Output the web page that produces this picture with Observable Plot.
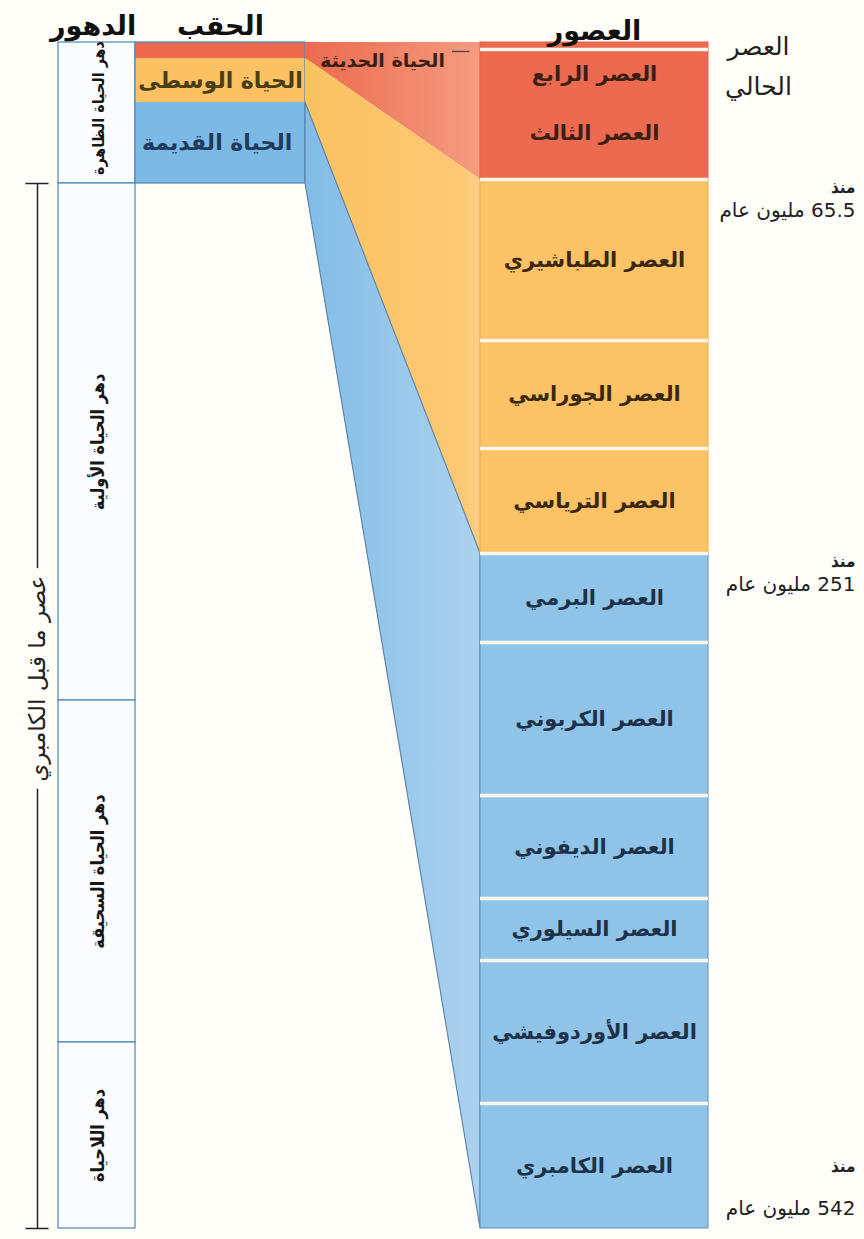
<!DOCTYPE html>
<html lang="ar">
<head>
<meta charset="utf-8">
<script src="https://cdn.jsdelivr.net/npm/d3@7"></script>
<script src="https://cdn.jsdelivr.net/npm/@observablehq/plot@0.6"></script>
<style>
html,body{margin:0;padding:0;background:#fffdf8;}
#chart{width:864px;height:1239px;}
</style>
</head>
<body>
<div id="chart"></div>
<script>
// ---------------- DATA (ages in millions of years ago) ----------------
const headers = ["الدهور", "الحقب", "العصور"];

const eonNames = ["دهر الحياة الظاهرة", "دهر الحياة الأولية", "دهر الحياة السحيقة", "دهر اللاحياة"];
const eonStart = [0, 542, 2500, 4000];
const eonEnd   = [542, 2500, 4000, 4600];

const eraKeys  = ["cenozoic", "mesozoic", "paleozoic"];
const eraNames = ["الحياة الحديثة", "الحياة الوسطى", "الحياة القديمة"];
const eraStart = [0, 65.5, 251];
const eraEnd   = [65.5, 251, 542];

const periodNames = ["العصر الرابع", "العصر الثالث", "العصر الطباشيري", "العصر الجوراسي", "العصر الترياسي",
  "العصر البرمي", "العصر الكربوني", "العصر الديفوني", "العصر السيلوري", "العصر الأوردوفيشي", "العصر الكامبري"];
const periodStart = [0, 2.6, 65.5, 145.5, 199.6, 251, 299, 359.2, 416, 443.7, 488.3];
const periodEnd   = [2.6, 65.5, 145.5, 199.6, 251, 299, 359.2, 416, 443.7, 488.3, 542];
const periodEra   = ["cenozoic", "cenozoic", "mesozoic", "mesozoic", "mesozoic",
  "paleozoic", "paleozoic", "paleozoic", "paleozoic", "paleozoic", "paleozoic"];

const boundaryAges   = [65.5, 251, 542];
const boundaryLabels = ["65.5 مليون عام", "251 مليون عام", "542 مليون عام"];
const sinceLabel   = "منذ";
const presentLabel = "العصر\nالحالي";
const precambrianLabel = "عصر ما قبل الكامبري";
const precambrianSpan = [542, 4600];

// ---------------- TABLES BUILT FROM THE ARRAYS ----------------
const eons = eonNames.map((name, i) => ({name, start: eonStart[i], end: eonEnd[i]}));
const eras = eraKeys.map((era, i) => ({era, name: eraNames[i], start: eraStart[i], end: eraEnd[i]}));
const periods = periodNames.map((name, i) => ({name, start: periodStart[i], end: periodEnd[i], era: periodEra[i]}));
const notes = boundaryAges.map((age, i) => ({age, label: boundaryLabels[i]}));

// ---------------- SCALES (layout options) ----------------
// Columns: -1 bracket, 0–1 eons, 1–2 eras, 2–3 links, 3–4 periods, 5 notes edge
const xOpts = {type: "linear", domain: [-1, 0, 1, 2, 3, 4, 5], range: [37, 58, 135, 305, 480, 708, 855], axis: null};
// Right column (periods): piecewise age scale
const yRightOpts = {type: "linear", domain: [...periodStart, 542],
  range: [42, 49, 179, 340, 448, 553, 642, 795, 898, 960, 1103, 1228], axis: null};
// Left columns (eons / eras): piecewise age scale
const yLeftOpts = {type: "linear", domain: [0, 65.5, 251, 542, 2500, 4000, 4600],
  range: [42, 58, 102, 183, 700, 1042, 1228]};

const yR = Plot.scale({y: yRightOpts});
const yL = Plot.scale({y: yLeftOpts});
const left = age => yR.invert(yL.apply(age));   // left-column age expressed on the plot's y scale

// styles
const eraFill = ["#ec6a4f", "#fbc162", "#7db9e5"];
const periodFill = {cenozoic: "#ec6a4f", mesozoic: "#fbc366", paleozoic: "#8fc3e8"};
const periodStroke = {cenozoic: "#e0604a", mesozoic: "#e8ac4c", paleozoic: "#5c8fbd"};
const labelColor = {cenozoic: "#3a2012", mesozoic: "#3a2812", paleozoic: "#1d3248"};
const blueLine = "#4d86b8";
const FONT = "DejaVu Sans, sans-serif";
const CONDENSED = "DejaVu Sans Condensed, DejaVu Sans, sans-serif";

const trap = eraKeys.flatMap((era, i) => [
  {era, x: 2, y1: left(eraStart[i]), y2: left(eraEnd[i])},
  {era, x: 3, y1: eraStart[i], y2: eraEnd[i]}
]);

const marks = [];

// Precambrian bracket (drawn first so its label halo stays under the columns)
marks.push(Plot.ruleX([precambrianSpan], {x: -1, y1: d => left(d[0]), y2: d => left(d[1]), stroke: "#222", strokeWidth: 1.5}));
marks.push(Plot.ruleY(precambrianSpan, {y: d => left(d), x1: -1.55, x2: -0.45, stroke: "#222", strokeWidth: 1.5}));
marks.push(Plot.text([precambrianLabel], {x: -1, y: left((precambrianSpan[0] + precambrianSpan[1]) / 2), dy: -38,
  text: d => d, rotate: -90, fontSize: 23, fill: "#222", stroke: "#fffdf8", strokeWidth: 20, fontFamily: FONT}));

// Eon column
marks.push(Plot.rect(eons, {x1: 0, x2: 1, y1: d => left(d.start), y2: d => left(d.end),
  fill: "#fafcff", stroke: blueLine, strokeWidth: 1.2}));
marks.push(Plot.text(eons.slice(0, 1), {x: 0.52, y: d => left((d.start + d.end) / 2), text: "name", rotate: -90,
  fontSize: 16, fontWeight: "bold", fill: "#161616", fontFamily: CONDENSED}));
marks.push(Plot.text(eons.slice(1), {x: 0.52, y: d => left((d.start + d.end) / 2), text: "name", rotate: -90,
  fontSize: 18, fontWeight: "bold", fill: "#161616", fontFamily: CONDENSED}));

// Era column
marks.push(Plot.rect(eras, {x1: 1, x2: 2, y1: d => left(d.start), y2: d => left(d.end), fill: "era"}));
marks.push(Plot.rect(eras.slice(0, 1), {x1: 1, x2: 2, y1: d => left(0), y2: d => left(542),
  fill: "none", stroke: blueLine, strokeWidth: 1.2}));

// Trapezoid links
eraKeys.forEach(k => {
  marks.push(Plot.areaY(trap.filter(d => d.era === k), {x: "x", y1: "y1", y2: "y2",
    fill: `url(#grad-${k})`, stroke: k === "paleozoic" ? "#5a7f9f" : "none", strokeWidth: 1.1}));
});

// Period column
eraKeys.forEach(k => {
  marks.push(Plot.rect(periods.filter(d => d.era === k), {x1: 3, x2: 4, y1: "start", y2: "end",
    fill: periodFill[k], stroke: periodStroke[k], strokeWidth: 1}));
});
marks.push(Plot.ruleY(periodStart.slice(1), {x1: 3, x2: 4, stroke: "#fdf6ea", strokeWidth: 3.5}));

// Era labels
marks.push(Plot.text(eras.filter(d => d.era === "mesozoic"), {x: 1.5, y: d => left((d.start + d.end) / 2), text: "name",
  fontSize: 22, fontWeight: "bold", fill: "#4a3d14", fontFamily: FONT}));
marks.push(Plot.text(eras.filter(d => d.era === "paleozoic"), {x: 1.48, y: d => left((d.start + d.end) / 2), text: "name",
  fontSize: 22, fontWeight: "bold", fill: "#1f3a5a", fontFamily: FONT}));
marks.push(Plot.text(eras.filter(d => d.era === "cenozoic"), {x: 2.44, y: d => d.start, dy: 18, text: "name",
  fontSize: 19, fontWeight: "bold", fill: "#3a2012", fontFamily: FONT}));
marks.push(Plot.ruleY(eras.filter(d => d.era === "cenozoic"), {y: "start", dy: 9, x1: 2.84, x2: 2.94, stroke: "#444", strokeWidth: 1.3}));

// Period labels
const periodLabelStyle = {x: 3.5, text: "name", fontSize: 21, fontWeight: "bold", fontFamily: FONT};
marks.push(Plot.text(periods.slice(0, 1), {...periodLabelStyle, y: "end", dy: 25, fill: labelColor.cenozoic}));
marks.push(Plot.text(periods.slice(1, 2), {...periodLabelStyle, y: d => (d.start + d.end) / 2, dy: 19, fill: labelColor.cenozoic}));
marks.push(Plot.text(periods.filter(d => d.era === "mesozoic"), {...periodLabelStyle, y: d => (d.start + d.end) / 2, fill: labelColor.mesozoic}));
marks.push(Plot.text(periods.filter(d => d.era === "paleozoic"), {...periodLabelStyle, y: d => (d.start + d.end) / 2, fill: labelColor.paleozoic}));

// Present-time label
marks.push(Plot.text([presentLabel], {x: 4.34, y: 0, dy: -16, text: d => d, lineAnchor: "top",
  lineHeight: 1.6, fontSize: 25, fill: "#231f20", fontFamily: FONT}));

// Boundary notes (right edge)
const upper = notes.filter(d => d.age < 542), lower = notes.filter(d => d.age === 542);
marks.push(Plot.text(upper, {x: 5, y: "age", dy: 8, text: () => sinceLabel, textAnchor: "start",
  fontSize: 17, fontWeight: "bold", fill: "#222", fontFamily: CONDENSED}));
marks.push(Plot.text(upper, {x: 5, y: "age", dy: 31, text: "label", textAnchor: "start",
  fontSize: 20, fill: "#222", fontFamily: FONT}));
marks.push(Plot.text(lower, {x: 5, y: "age", dy: -62, text: () => sinceLabel, textAnchor: "start",
  fontSize: 17, fontWeight: "bold", fill: "#222", fontFamily: CONDENSED}));
marks.push(Plot.text(lower, {x: 5, y: "age", dy: -20, text: "label", textAnchor: "start",
  fontSize: 20, fill: "#222", fontFamily: FONT}));

// Headers
const headerCols = [0.45, 1.5, 3.5], headerDy = [15, 15, 20];
headers.forEach((h, i) => marks.push(Plot.text([h], {x: headerCols[i], frameAnchor: "top", dy: headerDy[i],
  text: d => d, fontSize: 27, fontWeight: "900", fill: "#111", fontFamily: FONT})));

const svg = Plot.plot({
  width: 864, height: 1239, margin: 0,
  x: xOpts, y: yRightOpts,
  color: {domain: eraKeys, range: eraFill},
  style: {background: "#fffdf8", direction: "rtl", fontFamily: FONT},
  marks
});

// gradients for the links
d3.select(svg).insert("defs", ":first-child").html(`
  <linearGradient id="grad-cenozoic" x1="0" x2="1" y1="0" y2="0">
    <stop offset="0" stop-color="#ec6a4f"/><stop offset="1" stop-color="#f59c80"/></linearGradient>
  <linearGradient id="grad-mesozoic" x1="0" x2="1" y1="0" y2="0">
    <stop offset="0" stop-color="#fbc260"/><stop offset="0.9" stop-color="#fcc874"/><stop offset="1" stop-color="#fccf86"/></linearGradient>
  <linearGradient id="grad-paleozoic" x1="0" x2="1" y1="0" y2="0">
    <stop offset="0" stop-color="#80bce7"/><stop offset="1" stop-color="#add2ee"/></linearGradient>`);

document.getElementById("chart").appendChild(svg);
</script>
</body>
</html>
